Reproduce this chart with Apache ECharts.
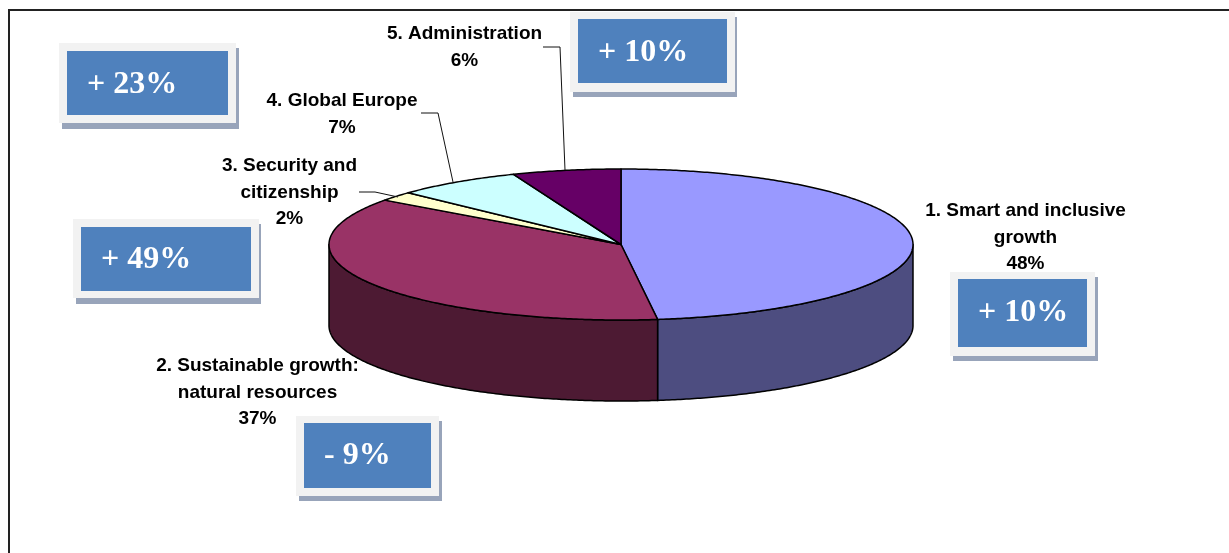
<!DOCTYPE html>
<html>
<head>
<meta charset="utf-8">
<title>Budget headings</title>
<style>
  html, body { margin: 0; padding: 0; background: #fff; }
  #chart { width: 1229px; height: 553px; }
</style>
<script src="https://cdn.jsdelivr.net/npm/echarts@6/dist/echarts.min.js"></script>
</head>
<body>
<div id="chart"></div>
<script>
// Budget headings, their share of the total and the change attached to each.
var categoryLines = [
  ['1. Smart and inclusive', 'growth'],
  ['2. Sustainable growth:', 'natural resources'],
  ['3. Security and', 'citizenship'],
  ['4. Global Europe'],
  ['5. Administration']
];
var shares = [48, 37, 2, 7, 6];
var changes = ['+ 10%', '- 9%', '+ 49%', '+ 23%', '+ 10%'];

// Slice colours: upper face and the darker outer wall.
var faceColors = ['#9999FF', '#993366', '#FFFFCC', '#CCFFFF', '#660066'];
var wallColors = ['#4D4D80', '#4D1A33', '#80805F', '#668080', '#330033'];

// Tilted disc geometry in pixels.
var disc = { cx: 621, cy: 244.5, rx: 292, ry: 75.5, depth: 81 };

// Label anchor (centre x, first line centre y) and optional leader line per heading.
var labelLayout = [
  { x: 1025.5, y: 211 },
  { x: 257.5, y: 366 },
  { x: 289.5, y: 166, leader: [[359, 192], [375, 192], [398, 197]] },
  { x: 342, y: 101, leader: [[421, 113], [438, 113], [453, 182]] },
  { x: 464.5, y: 34, leader: [[543, 47], [560, 47], [565, 170]] }
];

// Change badges: outer panel, inner panel, shadow limits and text start.
var badgeLayout = [
  { outer: [950, 272, 1095, 356], inner: [958, 279, 1087, 347], shadow: [1098, 361], tx: 978, ty: 313 },
  { outer: [296, 416, 439, 496], inner: [304, 423, 431, 488], shadow: [442, 501], tx: 324, ty: 456 },
  { outer: [73, 219, 259, 298], inner: [81, 227, 251, 291], shadow: [261, 304], tx: 101, ty: 260 },
  { outer: [59, 43, 236, 123], inner: [67, 51, 228, 115], shadow: [239, 129], tx: 87, ty: 85 },
  { outer: [570, 12, 735, 92], inner: [578, 19, 727, 83], shadow: [737, 97], tx: 598, ty: 53 }
];

var total = shares.reduce(function (a, b) { return a + b; }, 0);

// Sweep angles in radians, clockwise from twelve o'clock.
function sweep(index) {
  var before = 0;
  for (var i = 0; i < index; i++) before += shares[i];
  return [before / total * 2 * Math.PI, (before + shares[index]) / total * 2 * Math.PI];
}

function rimPoint(angle, drop) {
  return [
    disc.cx + disc.rx * Math.sin(angle),
    disc.cy - disc.ry * Math.cos(angle) + (drop || 0)
  ];
}

function rimArc(from, to, drop) {
  var steps = Math.max(2, Math.ceil((to - from) / 0.01));
  var points = [];
  for (var i = 0; i <= steps; i++) points.push(rimPoint(from + (to - from) * i / steps, drop));
  return points;
}

var rows = shares.map(function (share, i) { return [i, share]; });

function renderWall(params, api) {
  var i = api.value(0);
  var range = sweep(i);
  var from = Math.max(range[0], Math.PI / 2);
  var to = Math.min(range[1], Math.PI * 1.5);
  if (to <= from) return null;
  var points = rimArc(from, to, 0).concat(rimArc(from, to, disc.depth).reverse());
  return {
    type: 'polygon',
    shape: { points: points },
    style: { fill: wallColors[i], stroke: '#000', lineWidth: 1.5, lineJoin: 'round' }
  };
}

function renderFace(params, api) {
  var i = api.value(0);
  var range = sweep(i);
  var points = [[disc.cx, disc.cy]].concat(rimArc(range[0], range[1], 0));
  return {
    type: 'polygon',
    shape: { points: points },
    style: { fill: faceColors[i], stroke: '#000', lineWidth: 1.5, lineJoin: 'round' }
  };
}

function renderLabel(params, api) {
  var i = api.value(0);
  var layout = labelLayout[i];
  var lines = categoryLines[i].concat(api.value(1) + '%');
  var children = lines.map(function (line, n) {
    return {
      type: 'text',
      style: {
        text: line,
        x: layout.x,
        y: layout.y + n * 26.6,
        align: 'center',
        verticalAlign: 'middle',
        fill: '#000',
        font: 'bold 19px "Liberation Sans", Arial, sans-serif'
      }
    };
  });
  if (layout.leader) {
    children.push({
      type: 'polyline',
      shape: { points: layout.leader },
      style: { fill: 'none', stroke: '#111', lineWidth: 1 }
    });
  }
  return { type: 'group', children: children };
}

function boxFromCorners(c) {
  return { x: c[0], y: c[1], width: c[2] - c[0], height: c[3] - c[1] };
}

function renderBadge(params, api) {
  var i = api.value(0);
  var b = badgeLayout[i];
  return {
    type: 'group',
    children: [
      {
        type: 'rect',
        shape: boxFromCorners([b.outer[0] + 3, b.outer[1] + 5, b.shadow[0], b.shadow[1]]),
        style: { fill: '#98A4BA' }
      },
      { type: 'rect', shape: boxFromCorners(b.outer), style: { fill: '#F2F2F2' } },
      { type: 'rect', shape: boxFromCorners(b.inner), style: { fill: '#4F81BD' } },
      {
        type: 'text',
        style: {
          text: changes[i],
          x: b.tx,
          y: b.ty,
          align: 'left',
          verticalAlign: 'middle',
          fill: '#fff',
          font: 'bold 32px "Liberation Serif", "Times New Roman", serif'
        }
      }
    ]
  };
}

var chart = echarts.init(document.getElementById('chart'), null, { renderer: 'canvas' });
chart.setOption({
  animation: false,
  backgroundColor: '#fff',
  graphic: [
    {
      type: 'polyline',
      shape: { points: [[9, 553], [9, 10], [1229, 10]] },
      style: { fill: 'none', stroke: '#222', lineWidth: 2 }
    }
  ],
  series: [
    { type: 'custom', name: 'walls', coordinateSystem: 'none', data: rows, renderItem: renderWall, silent: true, z: 2 },
    { type: 'custom', name: 'faces', coordinateSystem: 'none', data: rows, renderItem: renderFace, silent: true, z: 3 },
    { type: 'custom', name: 'labels', coordinateSystem: 'none', data: rows, renderItem: renderLabel, silent: true, z: 4 },
    { type: 'custom', name: 'changes', coordinateSystem: 'none', data: rows, renderItem: renderBadge, silent: true, z: 5 }
  ]
});
</script>
</body>
</html>
